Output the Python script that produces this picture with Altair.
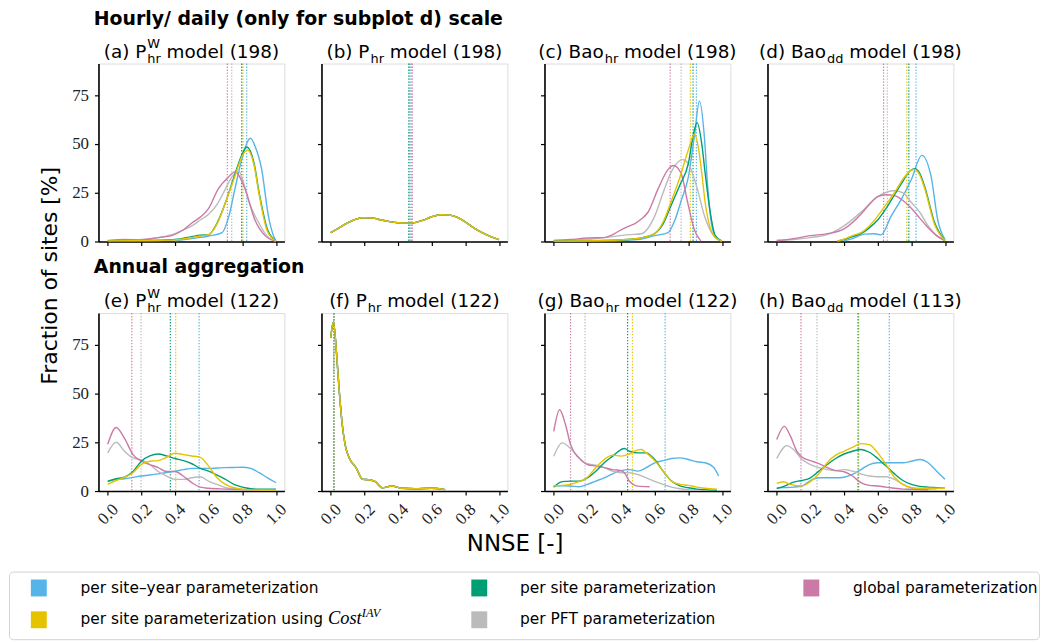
import altair as alt
import pandas as pd

# ---------------- data ----------------
KEYS = ["siteyear", "iav", "site", "pft", "global"]
COLORS = ["#56B4E9", "#E6C300", "#009E73", "#BBBBBB", "#CC79A7"]
LABELS = ["per site\u2013year parameterization", "per site parameterization using",
          "per site parameterization", "per PFT parameterization", "global parameterization"]
DRAW_ORDER = ["siteyear", "pft", "global", "site", "iav"]

X_TICKS = [0.0, 0.2, 0.4, 0.6, 0.8, 1.0]
Y_TICKS = [0, 25, 50, 75]

GRID21 = [0.0, 0.05, 0.1, 0.15, 0.2, 0.25, 0.3, 0.35, 0.4, 0.45, 0.5,
          0.55, 0.6, 0.65, 0.7, 0.75, 0.8, 0.85, 0.9, 0.95, 1.0]

PANEL_A = {
    "siteyear": ([0.4, 0.5, 0.6, 0.68, 0.72, 0.756, 0.796, 0.836, 0.848, 0.875, 0.915, 0.955, 0.985, 1.0],
                 [0.3, 1.5, 2.8, 4.6, 13, 27, 42, 52, 53, 49, 37, 13, 3, 0.3]),
    "iav": ([0.0, 0.3, 0.4, 0.5, 0.55, 0.6, 0.65, 0.7, 0.75, 0.8, 0.83, 0.87, 0.9, 0.95, 1.0],
            [0.3, 0.5, 0.8, 2.0, 2.8, 3.5, 9, 20, 32, 44, 47, 39, 24, 5, 0.3]),
    "site": ([0.0, 0.2, 0.3, 0.4, 0.5, 0.55, 0.6, 0.65, 0.7, 0.75, 0.8, 0.826, 0.87, 0.9, 0.95, 1.0],
             [0.3, 0.4, 0.6, 1.0, 2.5, 3.2, 3.5, 9.5, 20, 33, 45, 48.5, 40, 25, 6, 0.3]),
    "pft": ([0.0, 0.1, 0.2, 0.3, 0.4, 0.45, 0.5, 0.55, 0.6, 0.65, 0.7, 0.737, 0.78, 0.8, 0.836, 0.895, 0.955, 1.0],
            [0.5, 0.8, 1.0, 2.0, 4.0, 6.0, 8.0, 11, 14, 19, 27, 33, 36, 32, 21, 10, 2, 0.2]),
    "global": ([0.0, 0.1, 0.2, 0.3, 0.38, 0.45, 0.5, 0.55, 0.6, 0.657, 0.717, 0.756, 0.816, 0.875, 0.935, 1.0],
               [0.4, 1.0, 0.8, 2.0, 3.0, 6.0, 9.5, 12.5, 17, 27, 33, 35.7, 27, 11, 3, 0.1]),
}
MEDIANS_A = [0.826, 0.804, 0.796, 0.737, 0.711]

B_Y = [4.5, 7, 9.5, 11.5, 12.2, 12, 11, 10.2, 9.6, 9.4, 9.7, 11, 12.7, 13.7, 13.6, 12.5, 10, 7, 4.5, 2.5, 1]
PANEL_B = {k: (GRID21, B_Y) for k in KEYS}
MEDIANS_B = [0.476, 0.468, 0.464, 0.479, 0.485]

PANEL_C = {
    "siteyear": ([0.0, 0.3, 0.5, 0.6, 0.68, 0.72, 0.76, 0.8, 0.836, 0.866, 0.895, 0.915, 0.945, 0.975, 1.0],
                 [0.2, 0.3, 1, 3, 4.6, 11, 21.6, 33, 54, 72, 54, 28, 6, 1, 0.2]),
    "iav": ([0.0, 0.3, 0.5, 0.55, 0.6, 0.65, 0.7, 0.75, 0.8, 0.836, 0.86, 0.88, 0.9, 0.93, 0.96, 1.0],
            [0.2, 0.5, 1.5, 2.5, 4, 10, 21, 33, 47, 55, 48, 35, 20, 7, 2, 0.2]),
    "site": ([0.0, 0.3, 0.5, 0.55, 0.6, 0.65, 0.7, 0.75, 0.8, 0.83, 0.852, 0.88, 0.9, 0.93, 0.96, 1.0],
             [0.2, 0.5, 1.5, 2.5, 4, 9, 19, 29, 40, 55, 61, 50, 35, 15, 3, 0.2]),
    "pft": ([0.0, 0.2, 0.3, 0.45, 0.52, 0.6, 0.65, 0.7, 0.767, 0.8, 0.85, 0.9, 0.95, 1.0],
            [0.5, 1, 2, 3.5, 4, 13, 25, 36, 42, 40, 28, 12, 3, 0.3]),
    "global": ([0.0, 0.1, 0.2, 0.3, 0.35, 0.4, 0.45, 0.48, 0.52, 0.56, 0.62, 0.68, 0.711, 0.757, 0.796, 0.836, 0.875],
               [0.5, 1, 1.8, 2, 3.5, 6, 8, 9, 11.5, 15, 27, 37, 39, 35, 20, 6, 0.2]),
}
MEDIANS_C = [0.848, 0.812, 0.828, 0.757, 0.692]

PANEL_D = {
    "siteyear": ([0.4, 0.45, 0.52, 0.58, 0.62, 0.68, 0.74, 0.8, 0.862, 0.917, 0.957, 1.0],
                 [0.3, 1.5, 3.8, 4, 3.4, 13, 21.6, 31.8, 44.2, 33.5, 11, 1]),
    "iav": ([0.36, 0.4, 0.45, 0.5, 0.55, 0.6, 0.65, 0.7, 0.75, 0.79, 0.82, 0.85, 0.88, 0.937, 1.0],
            [0.2, 1.2, 3, 4.5, 8, 13, 19, 25, 32, 36, 37, 34, 27, 9, 0.5]),
    "site": ([0.36, 0.4, 0.45, 0.5, 0.55, 0.6, 0.65, 0.7, 0.75, 0.79, 0.818, 0.85, 0.88, 0.937, 1.0],
             [0.2, 1, 2.5, 4, 7, 11, 17, 24, 31, 36, 37.4, 35, 28, 10, 0.5]),
    "pft": ([0.0, 0.1, 0.2, 0.3, 0.4, 0.5, 0.6, 0.7, 0.75, 0.8, 0.85, 0.9, 0.95, 1.0],
            [0.5, 1, 2, 3.5, 8, 15, 23, 26, 25, 20, 15, 8, 3, 0.5]),
    "global": ([0.0, 0.1, 0.2, 0.3, 0.4, 0.5, 0.55, 0.6, 0.65, 0.7, 0.75, 0.8, 0.85, 0.9, 0.95, 1.0],
               [0.5, 1.5, 3, 4, 6.5, 14, 19, 23, 24, 23.5, 21, 17, 12, 7, 3, 0.5]),
}
MEDIANS_D = [0.828, 0.773, 0.785, 0.657, 0.635]

PANEL_E = {
    "siteyear": (GRID21, [4.8, 6, 6.3, 7, 7.7, 8.2, 8.8, 9.5, 10.2, 11, 11.6, 11.6, 11.6, 11.8, 12, 12.1, 12.2, 11.6, 9.4, 6.8, 4.3]),
    "iav": (GRID21, [3.4, 5.4, 7, 9.4, 13.6, 15.3, 15.6, 17.3, 19.4, 18.7, 18, 17.3, 12.8, 6.8, 3.4, 1.7, 0.9, 0.6, 0.5, 0.5, 0.5]),
    "site": (GRID21, [5.1, 6.3, 7.1, 10, 15.3, 18, 19, 18, 16.7, 15.6, 14, 11.6, 10.2, 8.2, 6, 3.4, 2, 1.2, 0.9, 0.9, 0.9]),
    "pft": ([0.0, 0.05, 0.1, 0.15, 0.2, 0.25, 0.3, 0.35, 0.4, 0.45, 0.5, 0.55, 0.6, 0.65, 0.7, 0.8, 0.9, 1.0],
            [19.5, 25, 20.4, 17, 16, 13.6, 10, 7.7, 6, 6, 6.8, 7.3, 5, 3.4, 1.7, 0.8, 0.5, 0.5]),
    "global": ([0.0, 0.05, 0.1, 0.15, 0.2, 0.25, 0.3, 0.35, 0.4, 0.45, 0.5, 0.55, 0.6, 0.7, 0.8, 0.9],
               [24, 32.6, 27, 18.7, 15.3, 13.6, 12, 10, 10, 7.6, 4.3, 2, 1.4, 1, 0.7, 0.5]),
}
MEDIANS_E = [0.543, 0.404, 0.372, 0.198, 0.143]

F_X = [0.0, 0.016, 0.035, 0.05, 0.07, 0.09, 0.11, 0.15, 0.19, 0.226, 0.265, 0.305, 0.364, 0.42, 0.5, 0.6, 0.68]
F_Y = [78.6, 86.7, 70, 52, 33, 22, 17, 12, 6, 5.8, 4.8, 1.7, 2.6, 1.4, 1.2, 1.4, 0.7]
PANEL_F = {k: (F_X, F_Y) for k in KEYS}
MEDIANS_F = [0.018, 0.02, 0.019, 0.018, 0.017]

PANEL_G = {
    "siteyear": ([0.0, 0.05, 0.1, 0.15, 0.2, 0.25, 0.3, 0.35, 0.4, 0.45, 0.5, 0.55, 0.6, 0.65, 0.7, 0.75, 0.8, 0.85, 0.9, 0.95, 0.98],
                 [2.6, 2.7, 2.6, 2.2, 3.4, 5.1, 6.8, 8.8, 10.5, 11, 10.2, 12, 14.5, 15.6, 16.7, 17, 16.2, 15, 14.5, 12.2, 7.7]),
    "iav": ([0.0, 0.05, 0.1, 0.15, 0.2, 0.25, 0.3, 0.35, 0.4, 0.45, 0.5, 0.52, 0.55, 0.6, 0.65, 0.7, 0.75, 0.8, 0.85, 0.9, 0.97],
            [2.6, 2.9, 3.4, 4.8, 7.1, 12, 16.2, 18.4, 17.9, 19, 21.1, 21.3, 19.6, 15.6, 10.2, 5.1, 3.4, 2.9, 2, 1.4, 0.9]),
    "site": ([0.0, 0.05, 0.1, 0.15, 0.2, 0.25, 0.3, 0.35, 0.4, 0.42, 0.45, 0.5, 0.55, 0.6, 0.65, 0.7, 0.75, 0.8, 0.85, 0.9, 0.97],
             [2, 4.8, 5.1, 5.1, 6.8, 10.2, 14.5, 17.9, 21.3, 21.8, 20.4, 19.6, 19.6, 16.2, 10.2, 5.1, 2.6, 1.7, 1, 0.7, 0.4]),
    "pft": ([0.0, 0.05, 0.1, 0.15, 0.2, 0.25, 0.3, 0.35, 0.4, 0.45, 0.5, 0.55, 0.6, 0.65, 0.7, 0.75, 0.8, 0.85],
            [17.9, 24.7, 21.8, 17, 14, 13.3, 12, 10.2, 9.4, 9.4, 8.5, 6.8, 5, 3.4, 2, 1.2, 0.7, 0.4]),
    "global": ([0.0, 0.035, 0.07, 0.1, 0.15, 0.2, 0.25, 0.3, 0.35, 0.4, 0.42, 0.45, 0.5, 0.57],
               [30.6, 41.7, 34, 23.8, 17, 13.6, 12.8, 12, 11, 10.5, 9.4, 5, 2.5, 2.2]),
}
MEDIANS_G = [0.662, 0.468, 0.439, 0.186, 0.10]

PANEL_H = {
    "siteyear": (GRID21, [1.7, 1.8, 2, 2.6, 5.4, 6.8, 6.8, 6.8, 7.1, 8.5, 11, 13.6, 14.5, 14.5, 14.5, 14.5, 15.3, 16.2, 14.5, 10.2, 6]),
    "iav": ([0.0, 0.04, 0.08, 0.15, 0.2, 0.25, 0.3, 0.35, 0.4, 0.45, 0.5, 0.55, 0.6, 0.65, 0.7, 0.75, 0.8, 0.85, 0.9, 1.0],
            [3.9, 4.8, 3.4, 2.6, 4.8, 8.8, 14.5, 18.4, 20.4, 22.4, 24.3, 23.8, 19.6, 13.6, 7.1, 3.4, 1.7, 1.4, 1.4, 1.4]),
    "site": (GRID21, [1.2, 2.6, 4.6, 5.4, 6.8, 10.2, 13.6, 16.7, 19, 20.4, 21.3, 19.9, 16.7, 12.8, 8.8, 5.4, 3.4, 2.4, 2, 1.7, 1.4]),
    "pft": ([0.0, 0.06, 0.1, 0.15, 0.2, 0.25, 0.3, 0.35, 0.4, 0.45, 0.5, 0.55, 0.6, 0.65, 0.7, 0.75, 0.8, 0.85, 0.9, 0.95],
            [16.7, 23.3, 21.3, 16.2, 13.6, 12, 11, 10.5, 11, 10.2, 8.8, 7.7, 7.3, 7.3, 6, 3.4, 1.7, 1, 0.7, 0.5]),
    "global": ([0.0, 0.045, 0.08, 0.12, 0.15, 0.2, 0.25, 0.3, 0.35, 0.4, 0.45, 0.5, 0.55, 0.6, 0.65, 0.7, 0.75, 0.8, 0.9],
               [26.4, 33.2, 28.4, 20.4, 17.5, 15.6, 14.1, 12, 10.5, 9.9, 7.7, 4.3, 2.9, 2.6, 2, 1.4, 1, 0.9, 0.5]),
}
MEDIANS_H = [0.669, 0.487, 0.483, 0.239, 0.144]

PANELS = [PANEL_A, PANEL_B, PANEL_C, PANEL_D, PANEL_E, PANEL_F, PANEL_G, PANEL_H]
MEDIANS = [MEDIANS_A, MEDIANS_B, MEDIANS_C, MEDIANS_D, MEDIANS_E, MEDIANS_F, MEDIANS_G, MEDIANS_H]

TITLE_PRE = ["(a) P", "(b) P", "(c) Bao", "(d) Bao", "(e) P", "(f) P", "(g) Bao", "(h) Bao"]
TITLE_SUB = ["hr", "hr", "hr", "dd", "hr", "hr", "hr", "dd"]
TITLE_SUP = ["W", "", "", "", "W", "", "", ""]
TITLE_POST = ["model (198)", "model (198)", "model (198)", "model (198)",
              "model (122)", "model (122)", "model (122)", "model (113)"]
ROW_HEADINGS = ["Hourly/ daily (only for subplot d) scale", "Annual aggregation"]
Y_TITLE = "Fraction of sites [%]"
X_TITLE = "NNSE [-]"

# ---------------- layout / style ----------------
PW, PH = 187, 179
XDOM = [-0.055, 1.05]
YDOM = [0, 91.3]
MAIN_FS, SUB_FS = 18.5, 13
LEG_FS = 15.5
LEG_Y0 = 251  # legend frame origin, relative to the top of panel (e)

W_DV = {' ': .318, 'a': .613, 'b': .635, 'c': .550, 'd': .635, 'e': .615, 'f': .352, 'g': .635,
        'h': .634, 'i': .278, 'j': .278, 'k': .579, 'l': .278, 'm': .974, 'n': .634, 'o': .612,
        'p': .635, 'q': .635, 'r': .411, 's': .521, 't': .392, 'u': .634, 'v': .592, 'w': .818,
        'x': .592, 'y': .592, 'z': .525, '(': .390, ')': .390, 'P': .603, 'B': .686, 'W': .989,
        'T': .611, 'F': .575, '0': .636, '1': .636, '2': .636, '3': .636, '8': .636, '9': .636,
        '\u2013': .5, '-': .361}


def tw(s, size):
    return sum(W_DV.get(c, 0.6) for c in s) * size


ONE = pd.DataFrame({"t": [""]})


def txt(s, x, y, size, font="DejaVu Sans", align="left", weight="normal", style="normal",
        angle=None, color="black"):
    kw = dict(align=align, baseline="alphabetic", font=font, fontSize=size,
              fontWeight=weight, fontStyle=style, color=color)
    if angle is not None:
        kw["angle"] = angle
    return alt.Chart(pd.DataFrame({"t": [s]})).mark_text(**kw).encode(
        text="t:N", x=alt.value(x), y=alt.value(y))


def xenc(row):
    return alt.X("x:Q", scale=alt.Scale(domain=XDOM, nice=False, zero=False),
                 axis=alt.Axis(values=X_TICKS, labels=(row == 1), format=".1f", labelAngle=-45,
                               labelAlign="center", labelBaseline="middle", labelPadding=19,
                               title=None))


def yenc(col):
    return alt.Y("y:Q", scale=alt.Scale(domain=YDOM, nice=False, zero=False),
                 axis=alt.Axis(values=Y_TICKS, labels=(col == 0), labelPadding=6, title=None))


def legend_layers():
    y0 = LEG_Y0
    out = [alt.Chart(ONE).mark_rect(fill="white", stroke="#d4d4d4", strokeWidth=1, cornerRadius=4).encode(
        x=alt.value(-89.5), x2=alt.value(946.5), y=alt.value(y0 + 9.5), y2=alt.value(y0 + 77.5))]
    col_sq = [-68, 375, 709]
    col_tx = [-18, 424, 759]
    row_top = [17, 49]
    row_base = [31, 62]
    slots = {"siteyear": (0, 0), "iav": (0, 1), "site": (1, 0), "pft": (1, 1), "global": (2, 0)}
    for j, k in enumerate(KEYS):
        c, r = slots[k]
        out.append(alt.Chart(ONE).mark_rect(color=COLORS[j]).encode(
            x=alt.value(col_sq[c]), x2=alt.value(col_sq[c] + 16),
            y=alt.value(y0 + row_top[r]), y2=alt.value(y0 + row_top[r] + 17)))
        out.append(txt(LABELS[j], col_tx[c], y0 + row_base[r], LEG_FS))
    cx = col_tx[0] + tw(LABELS[1] + " ", LEG_FS)
    out.append(txt("Cost", cx, y0 + row_base[1], 18.5, font="Liberation Serif", style="italic"))
    out.append(txt("IAV", cx + 34, y0 + row_base[1] - 7.5, 12.5, font="Liberation Serif", style="italic"))
    return out


def build_panel(i):
    row, col = divmod(i, 4)
    layers = []
    if i == 4:
        layers.extend(legend_layers())
    med_df = pd.DataFrame({"x": MEDIANS[i], "k": KEYS})
    layers.append(alt.Chart(med_df).mark_rule(strokeDash=[1.4, 1.6], strokeWidth=1.2, opacity=0.95).encode(
        x=xenc(row),
        color=alt.Color("k:N", scale=alt.Scale(domain=KEYS, range=COLORS), legend=None)))
    for k in DRAW_ORDER:
        xs, ys = PANELS[i][k]
        df = pd.DataFrame({"x": xs, "y": ys})
        layers.append(alt.Chart(df).mark_line(color=COLORS[KEYS.index(k)], strokeWidth=1.4,
                                              interpolate="monotone").encode(x=xenc(row), y=yenc(col)))
    # panel title with sub/superscripts
    pre, sub, sup, post = TITLE_PRE[i], TITLE_SUB[i], TITLE_SUP[i], TITLE_POST[i]
    total = tw(pre, MAIN_FS) + tw(sub, SUB_FS) + 1 + tw(" " + post, MAIN_FS)
    start = PW / 2 - total / 2
    J = start + tw(pre, MAIN_FS)
    yb = -6
    layers.append(txt(pre, J, yb, MAIN_FS, align="right"))
    layers.append(txt(sub, J + 1, yb + 5, SUB_FS))
    if sup:
        layers.append(txt(sup, J + 1, yb - 9.5, SUB_FS))
    layers.append(txt(post, J + 1 + tw(sub, SUB_FS) + tw(" ", MAIN_FS), yb, MAIN_FS))
    if col == 0:
        hy = -38.3 if row == 0 else -40
        layers.append(txt(ROW_HEADINGS[row], -4.7, hy, 19, weight="bold"))
    if i == 0:
        layers.append(txt(Y_TITLE, -42, 213.5, 22, align="center", angle=270))
    if i == 4:
        layers.append(txt(X_TITLE, 419, 239.7, 23, align="center"))
    return alt.layer(*layers).properties(width=PW, height=PH)


panels = [build_panel(i) for i in range(8)]

chart = alt.concat(*panels, columns=4, spacing={"row": 72, "column": 37.3},
                   bounds="flush", align="each").properties(padding=0)
chart = chart.configure_view(strokeWidth=0, strokeOpacity=0).configure(font="DejaVu Sans").configure_axis(
    domainColor="black", domainWidth=1.6, tickColor="black", tickWidth=1.2, tickSize=4,
    labelFont="Liberation Serif", labelFontSize=17, labelColor="#222", grid=False,
    labelFlush=False, labelOverlap=False)

chart.save("out.html", embed_options={"renderer": "svg", "actions": False})
